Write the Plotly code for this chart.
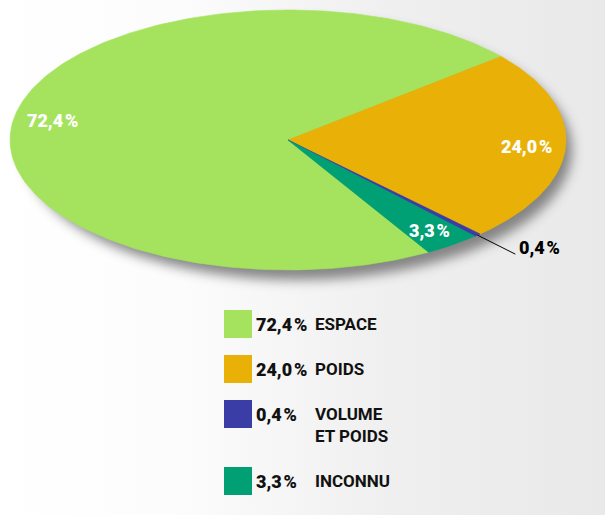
import base64
import math

import plotly.graph_objects as go

# data
labels = ["ESPACE", "POIDS", "VOLUME<br>ET POIDS", "INCONNU"]
values = [72.4, 24.0, 0.4, 3.3]
colors = ["#A5E35E", "#E9B108", "#3A3DA6", "#009F74"]

FONT = "Roboto, Liberation Sans, sans-serif"

# pie geometry (pixel space, y grows downward)
CX, CY, RX, RY = 288, 140, 278, 130
END_FIRST = 40.0  # angle (deg) where the first slice ends, going clockwise


def fmt(v):
    return f"{v:.1f}".replace(".", ",") + "\u200a%"


def ellipse_pt(theta_deg, r=1.0):
    t = math.radians(theta_deg)
    return CX + r * RX * math.cos(t), CY - r * RY * math.sin(t)


def slice_angles():
    total = sum(values)
    start = END_FIRST + 360 * values[0] / total
    out = []
    for v in values:
        span = 360 * v / total
        out.append((start, start - span))
        start -= span
    return out


def background_svg():
    svg = (
        "<svg xmlns='http://www.w3.org/2000/svg' width='605' height='515'>"
        "<defs>"
        "<linearGradient id='g' x1='0' y1='0' x2='1' y2='0'>"
        "<stop offset='0' stop-color='#ffffff'/>"
        "<stop offset='0.3' stop-color='#fcfcfc'/>"
        "<stop offset='0.65' stop-color='#efefef'/>"
        "<stop offset='1' stop-color='#e9e9e9'/>"
        "</linearGradient>"
        "<filter id='b' x='-20%' y='-40%' width='140%' height='180%'>"
        "<feGaussianBlur stdDeviation='6'/></filter>"
        "</defs>"
        "<rect width='605' height='515' fill='url(#g)'/>"
        f"<ellipse cx='{CX + 10}' cy='{CY + 10}' rx='{RX - 4}' ry='{RY}' "
        "fill='#6a6a6a' opacity='0.8' filter='url(#b)'/>"
        "</svg>"
    )
    return "data:image/svg+xml;base64," + base64.b64encode(svg.encode()).decode()


fig = go.Figure()

# slices
for (a0, a1), col in zip(slice_angles(), colors):
    n = max(4, int(abs(a0 - a1)))
    xs, ys = [CX], [CY]
    for k in range(n + 1):
        x, y = ellipse_pt(a0 + (a1 - a0) * k / n)
        xs.append(x)
        ys.append(y)
    xs.append(CX)
    ys.append(CY)
    fig.add_trace(go.Scatter(
        x=xs, y=ys, mode="lines", fill="toself", fillcolor=col,
        line={"color": col, "width": 0.6}, hoverinfo="skip", showlegend=False
    ))

# slice labels
for (a0, a1), v in zip(slice_angles(), values):
    mid = (a0 + a1) / 2
    if v >= 1:
        x, y = ellipse_pt(mid, 0.86)
        fig.add_annotation(x=x, y=y, text=fmt(v), showarrow=False,
                           font={"family": FONT, "size": 18, "color": "white",
                                 "weight": 900})
    else:
        x0, y0 = ellipse_pt(mid, 1.0)
        x1, y1 = ellipse_pt(mid, 1.2)
        fig.add_trace(go.Scatter(x=[x0, x1], y=[y0, y1], mode="lines",
                                 line={"color": "black", "width": 1},
                                 hoverinfo="skip", showlegend=False))
        fig.add_annotation(x=x1 + 2, y=y1 - 7, text=fmt(v),
                           showarrow=False, xanchor="left",
                           font={"family": FONT, "size": 18, "color": "black",
                                 "weight": 900})

# legend block
row_y = []
y = 324
for lab in labels:
    row_y.append(y)
    y += 45 + 22 * lab.count("<br>")

fig.add_trace(go.Scatter(
    x=[238] * len(labels), y=row_y, mode="markers",
    marker={"symbol": "square", "size": 28, "color": colors, "line": {"width": 0}},
    hoverinfo="skip", showlegend=False
))
for lab, v, yy in zip(labels, values, row_y):
    fig.add_annotation(x=254, y=yy, text=fmt(v), showarrow=False,
                       xanchor="left", yanchor="middle",
                       font={"family": FONT, "size": 18, "color": "#111111",
                             "weight": 900})
    fig.add_annotation(x=313, y=yy + 11 * lab.count("<br>"), text=lab,
                       showarrow=False, xanchor="left", yanchor="middle", align="left",
                       font={"family": FONT, "size": 17, "color": "#111111",
                             "weight": 700})

fig.update_layout(
    width=605, height=515,
    margin={"l": 0, "r": 0, "t": 0, "b": 0},
    paper_bgcolor="white", plot_bgcolor="rgba(0,0,0,0)",
    xaxis={"range": [0, 605], "visible": False, "fixedrange": True},
    yaxis={"range": [515, 0], "visible": False, "fixedrange": True},
    images=[{
        "source": background_svg(), "xref": "paper", "yref": "paper",
        "x": 0, "y": 1, "sizex": 1, "sizey": 1, "xanchor": "left", "yanchor": "top",
        "sizing": "stretch", "layer": "below"
    }],
)

fig.write_html(
    "out.html",
    config={"displayModeBar": False},
    post_script="document.body.style.margin='0';document.body.style.overflow='hidden';",
)
